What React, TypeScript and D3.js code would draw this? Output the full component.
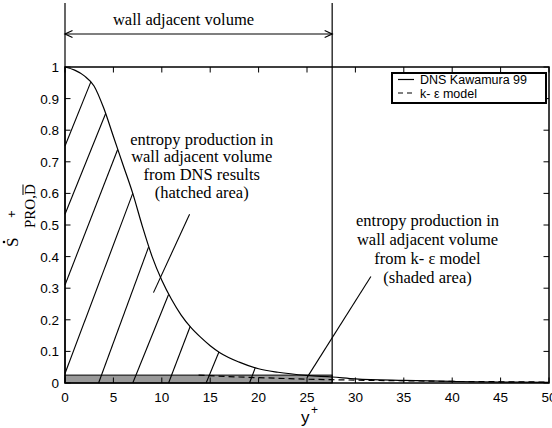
import React from 'react';
import * as d3 from 'd3';

// DNS Kawamura 99 curve
const dnsX = [0, 1, 2, 3, 4, 5, 6, 7, 8, 9, 10, 11, 12, 13, 14, 15, 16, 18, 20, 22, 25, 27.6, 30, 35, 40, 45, 50];
const dnsY = [1.0, 0.99, 0.972, 0.94, 0.87, 0.78, 0.69, 0.6, 0.495, 0.4, 0.325, 0.265, 0.215, 0.176, 0.145, 0.118, 0.096, 0.066, 0.045, 0.034, 0.024, 0.019, 0.013, 0.008, 0.005, 0.003, 0.002];

// k-epsilon model curve
const keX = [13.8, 18, 22, 25, 27.6, 30, 35, 40, 45, 50];
const keY = [0.025, 0.019, 0.015, 0.012, 0.0105, 0.009, 0.007, 0.005, 0.004, 0.003];

const xTicks = [0, 5, 10, 15, 20, 25, 30, 35, 40, 45, 50];
const yTicks = [0, 0.1, 0.2, 0.3, 0.4, 0.5, 0.6, 0.7, 0.8, 0.9, 1];
const yTickLabels = ['0', '0.1', '0.2', '0.3', '0.4', '0.5', '0.6', '0.7', '0.8', '0.9', '1'];

const wallEdge = 27.6;
const shadeTop = 0.025;

// hatch segments (data units)
const hatchStart = [[0, 0.75], [0, 0.534], [0, 0.31], [0, 0.03], [3.47, 0], [7.0, 0], [10.7, 0], [14.58, 0], [19.06, 0]];
const hatchEnd = [[2.66, 0.952], [4.2, 0.853], [5.44, 0.739], [7.0, 0.6], [8.63, 0.43], [10.7, 0.28], [12.93, 0.179], [15.9, 0.098], [19.65, 0.048]];

// annotation pointers (data units)
const pointerDNS = [[9.14, 0.286], [12.87, 0.534]];
const pointerKE = [[25.0, 0.017], [31.6, 0.337]];

const noteDNS = ['entropy production in', 'wall adjacent volume', 'from DNS results', '(hatched area)'];
const noteKE = ['entropy production in', 'wall adjacent volume', 'from k- \u03b5 model', '(shaded area)'];

const SERIF = '"Liberation Serif", "Times New Roman", serif';
const SANS = '"Liberation Sans", Arial, sans-serif';

export default function App() {
  const x = d3.scaleLinear().domain([0, 50]).range([65, 549]);
  const y = d3.scaleLinear().domain([0, 1]).range([383, 67]);
  const [x0, x1] = x.range();
  const [y0, y1] = y.range();

  const dnsPath = d3
    .line<number>()
    .x((d) => x(d))
    .y((_, i) => y(dnsY[i]))
    .curve(d3.curveMonotoneX)(dnsX) as string;
  const kePath = d3
    .line<number>()
    .x((d) => x(d))
    .y((_, i) => y(keY[i]))
    .curve(d3.curveMonotoneX)(keX) as string;

  const tick = 5.5;
  const arrowY = 34;
  const ah = 7.5;
  const aw = 3.5;

  return (
    <svg width={552} height={428} style={{ position: 'absolute', left: 0, top: 0, background: '#fff' }}>
      <rect x={0} y={0} width={552} height={428} fill="#fff" />
      {/* shaded area */}
      <rect
        x={x(0)}
        y={y(shadeTop)}
        width={x(wallEdge) - x(0)}
        height={y(0) - y(shadeTop)}
        fill="#999"
        stroke="#000"
        strokeWidth={1}
      />
      {/* hatch lines */}
      {hatchStart.map((s, i) => (
        <line
          key={'h' + i}
          x1={x(s[0])}
          y1={y(s[1])}
          x2={x(hatchEnd[i][0])}
          y2={y(hatchEnd[i][1])}
          stroke="#000"
          strokeWidth={1.1}
        />
      ))}
      {/* curves */}
      <path d={dnsPath} fill="none" stroke="#000" strokeWidth={1.2} />
      <path d={kePath} fill="none" stroke="#000" strokeWidth={1.2} strokeDasharray="6,4" />

      {/* frame */}
      <rect x={x0} y={y1} width={x1 - x0} height={y0 - y1} fill="none" stroke="#000" strokeWidth={1.5} />
      {xTicks.map((t) => (
        <g key={'xt' + t}>
          <line x1={x(t)} x2={x(t)} y1={y0} y2={y0 - tick} stroke="#000" strokeWidth={1} />
          <line x1={x(t)} x2={x(t)} y1={y1} y2={y1 + tick} stroke="#000" strokeWidth={1} />
          <text x={x(t)} y={402} textAnchor="middle" fontFamily={SANS} fontSize={13.5}>
            {t}
          </text>
        </g>
      ))}
      {yTicks.map((t, i) => (
        <g key={'yt' + i}>
          <line x1={x0} x2={x0 + tick} y1={y(t)} y2={y(t)} stroke="#000" strokeWidth={1} />
          <line x1={x1} x2={x1 - tick} y1={y(t)} y2={y(t)} stroke="#000" strokeWidth={1} />
          <text x={59} y={y(t) + 5} textAnchor="end" fontFamily={SANS} fontSize={13.5}>
            {yTickLabels[i]}
          </text>
        </g>
      ))}

      {/* wall adjacent volume markers */}
      <line x1={x(0)} x2={x(0)} y1={3} y2={y0} stroke="#000" strokeWidth={1.2} />
      <line x1={x(wallEdge)} x2={x(wallEdge)} y1={3} y2={y0} stroke="#000" strokeWidth={1.2} />
      <line x1={x(0)} x2={x(wallEdge)} y1={arrowY} y2={arrowY} stroke="#000" strokeWidth={1.2} />
      <polyline
        points={`${x(0) + ah},${arrowY - aw} ${x(0)},${arrowY} ${x(0) + ah},${arrowY + aw}`}
        fill="none"
        stroke="#000"
        strokeWidth={1.2}
      />
      <polyline
        points={`${x(wallEdge) - ah},${arrowY - aw} ${x(wallEdge)},${arrowY} ${x(wallEdge) - ah},${arrowY + aw}`}
        fill="none"
        stroke="#000"
        strokeWidth={1.2}
      />
      <text x={183.5} y={25} textAnchor="middle" fontFamily={SERIF} fontSize={16.5}>
        wall adjacent volume
      </text>

      {/* annotations */}
      <line
        x1={x(pointerDNS[0][0])}
        y1={y(pointerDNS[0][1])}
        x2={x(pointerDNS[1][0])}
        y2={y(pointerDNS[1][1])}
        stroke="#000"
        strokeWidth={1.1}
      />
      <line
        x1={x(pointerKE[0][0])}
        y1={y(pointerKE[0][1])}
        x2={x(pointerKE[1][0])}
        y2={y(pointerKE[1][1])}
        stroke="#000"
        strokeWidth={1.1}
      />
      {noteDNS.map((s, i) => (
        <text key={'nd' + i} x={201.7} y={144.5 + i * 17.9} textAnchor="middle" fontFamily={SERIF} fontSize={16.5}>
          {s}
        </text>
      ))}
      {noteKE.map((s, i) => (
        <text key={'nk' + i} x={427.5} y={225.8 + i * 19} textAnchor="middle" fontFamily={SERIF} fontSize={16.5}>
          {s}
        </text>
      ))}

      {/* legend */}
      <rect x={392} y={73} width={154} height={30} fill="#fff" stroke="#000" strokeWidth={2} />
      <line x1={398} x2={414} y1={79.5} y2={79.5} stroke="#000" strokeWidth={1.2} />
      <line x1={398} x2={414} y1={93} y2={93} stroke="#000" strokeWidth={1.2} strokeDasharray="5,4" />
      <text x={420} y={84} fontFamily={SANS} fontSize={12.5}>
        DNS Kawamura 99
      </text>
      <text x={420} y={97.5} fontFamily={SANS} fontSize={12.5}>
        k- {'\u03b5'} model
      </text>

      {/* x label */}
      <text x={301} y={423} fontFamily={SANS} fontSize={17}>
        y
      </text>
      <text x={311} y={414} fontFamily={SANS} fontSize={12}>
        +
      </text>

      {/* y label */}
      <g transform="translate(18,247) rotate(-90)">
        <text x={0} y={0} fontFamily={SERIF} fontSize={17}>
          S
        </text>
        <circle cx={5} cy={-14} r={1.3} fill="#000" />
        <text x={29} y={-2} fontFamily={SANS} fontSize={13}>
          +
        </text>
        <text x={19} y={17} fontFamily={SERIF} fontSize={15}>
          PRO,D
        </text>
        <line x1={52} x2={62.5} y1={5} y2={5} stroke="#000" strokeWidth={1} />
      </g>
    </svg>
  );
}
